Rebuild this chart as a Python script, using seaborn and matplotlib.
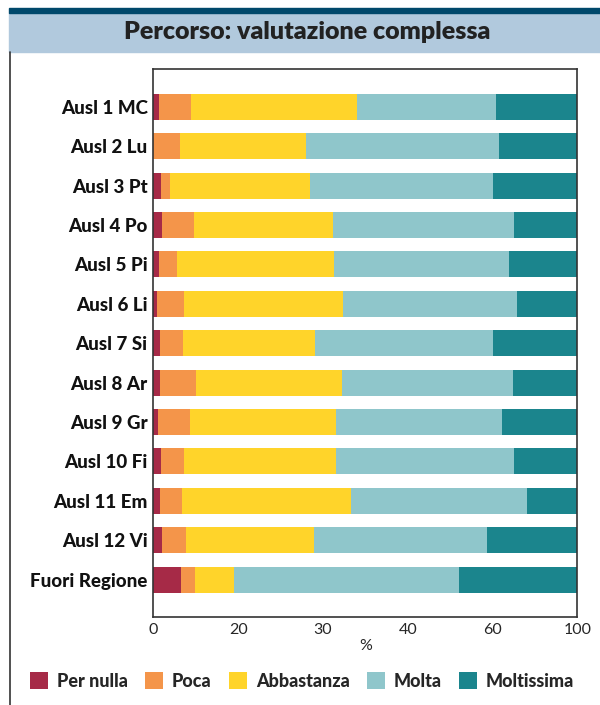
import matplotlib
matplotlib.use('Agg')
import matplotlib.pyplot as plt
from matplotlib.patches import Patch, Rectangle
from matplotlib.lines import Line2D
import numpy as np
import pandas as pd
import seaborn as sns

# --- dati ---
aree = ['Ausl 1 MC', 'Ausl 2 Lu', 'Ausl 3 Pt', 'Ausl 4 Po', 'Ausl 5 Pi', 'Ausl 6 Li',
        'Ausl 7 Si', 'Ausl 8 Ar', 'Ausl 9 Gr', 'Ausl 10 Fi', 'Ausl 11 Em', 'Ausl 12 Vi',
        'Fuori Regione']
per_nulla = [1.3, 0.0, 1.8, 2.1, 1.3, 0.9, 1.6, 1.6, 1.1, 1.8, 1.6, 2.1, 6.5]
poca = [7.6, 6.3, 2.1, 7.5, 4.3, 6.3, 5.4, 8.5, 7.6, 5.4, 5.2, 5.6, 3.3]
abbastanza = [39.1, 29.7, 33.0, 32.8, 37.0, 37.5, 31.2, 34.4, 34.4, 35.9, 39.8, 30.2, 9.2]
molta = [32.8, 45.5, 43.2, 42.7, 41.3, 41.1, 41.9, 40.3, 39.1, 42.0, 41.5, 40.8, 53.1]
moltissima = [19.2, 18.5, 19.9, 14.9, 16.1, 14.2, 19.9, 15.2, 17.8, 14.9, 11.9, 21.3, 27.9]

serie = ['Per nulla', 'Poca', 'Abbastanza', 'Molta', 'Moltissima']
colori = ['#A62A47', '#F4954A', '#FFD42A', '#8FC6CB', '#1B858D']
tick_pos = [0, 20, 40, 60, 80, 100]
tick_lab = ['0', '20', '30', '40', '60', '100']

df = pd.DataFrame({'area': aree, 'Per nulla': per_nulla, 'Poca': poca,
                   'Abbastanza': abbastanza, 'Molta': molta, 'Moltissima': moltissima})
cum = df[serie].cumsum(axis=1)

sns.set_style('white')
plt.rcParams['font.family'] = ['Lato', 'DejaVu Sans']

fig = plt.figure(figsize=(6, 7.05), dpi=100)
ax = fig.add_axes([0.2555, 0.1248, 0.7067, 0.7773])

# barre impilate: si disegna dalla somma cumulativa piu' lunga alla piu' corta
for s, c in reversed(list(zip(serie, colori))):
    sns.barplot(x=cum[s], y=df['area'], color=c, width=0.66, orient='h',
                saturation=1, ax=ax, linewidth=0)

ax.set_xlim(0, 100)
ax.set_ylim(len(aree) - 1 + 0.95, -0.96)
ax.set_xticks(tick_pos)
ax.set_xticklabels(tick_lab, fontsize=11.5)
ax.set_xlabel('%', fontsize=11.5, labelpad=2)
ax.set_ylabel('')
for lab in ax.get_yticklabels():
    lab.set_fontweight('black')
    lab.set_fontsize(13.5)
    lab.set_color('#111111')
ax.tick_params(axis='both', length=0, pad=4)
for sp in ax.spines.values():
    sp.set_color('#333333')
    sp.set_linewidth(1.2)

# fascia del titolo
fig.patches.append(Rectangle((9 / 600, 1 - 52 / 705), 1 - 9 / 600, 39 / 705,
                             transform=fig.transFigure, color='#B1C9DD', zorder=0))
fig.patches.append(Rectangle((9 / 600, 1 - 13 / 705), 1 - 9 / 600, 5 / 705,
                             transform=fig.transFigure, color='#00486B', zorder=0))
fig.lines.append(Line2D([9.5 / 600, 9.5 / 600], [0, 1 - 52 / 705],
                        transform=fig.transFigure, color='#333333', linewidth=1.2))
fig.text(307 / 600, 1 - 32 / 705, 'Percorso: valutazione complessa',
         ha='center', va='center', fontsize=18, fontweight='heavy', color='#222222')

handles = [Patch(facecolor=c, edgecolor='none') for c in colori]
leg = fig.legend(handles, serie, loc='center', bbox_to_anchor=(302 / 600, 1 - 681 / 705),
                 ncol=5, frameon=False, handlelength=1.0, handleheight=1.0,
                 handletextpad=0.5, columnspacing=0.95,
                 prop={'weight': 'black', 'size': 13})

fig.savefig('out.png', dpi=100)
